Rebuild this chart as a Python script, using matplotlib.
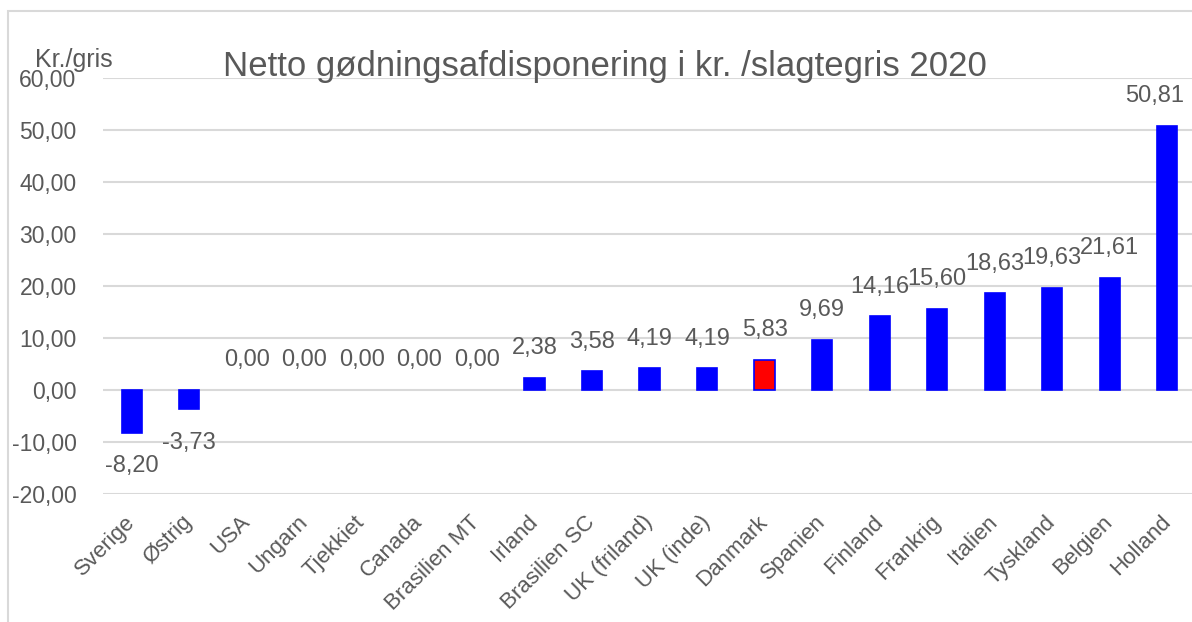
"""Netto goedningsafdisponering i kr. pr. slagtegris 2020 - bar chart"""
import matplotlib
matplotlib.use('Agg')
import matplotlib.pyplot as plt
from matplotlib.patches import Rectangle

countries = ['Sverige', 'Østrig', 'USA', 'Ungarn', 'Tjekkiet', 'Canada',
             'Brasilien MT', 'Irland', 'Brasilien SC', 'UK (friland)',
             'UK (inde)', 'Danmark', 'Spanien', 'Finland', 'Frankrig',
             'Italien', 'Tyskland', 'Belgien', 'Holland']
values = [-8.20, -3.73, 0.00, 0.00, 0.00, 0.00, 0.00, 2.38, 3.58, 4.19,
          4.19, 5.83, 9.69, 14.16, 15.60, 18.63, 19.63, 21.61, 50.81]
yticks = [-20, -10, 0, 10, 20, 30, 40, 50, 60]
highlight = 'Danmark'

TXT = '#595959'
GRID = '#d9d9d9'
plt.rcParams['font.family'] = ['Liberation Sans', 'DejaVu Sans']

def fmt(v):
  return f'{v:.2f}'.replace('.', ',')

W, H = 1192, 622
fig = plt.figure(figsize=(W / 100, H / 100), dpi=100)

# light frame round the chart (left and top edges visible)
fig.patches.append(Rectangle((8 / W, -0.1), 1.2, 1 - 11 / H + 0.1,
                             transform=fig.transFigure, fill=False,
                             edgecolor=GRID, linewidth=1.5))

left, right = 103 / W, 1196 / W
top, bottom = 1 - 78 / H, 1 - 494 / H
ax = fig.add_axes([left, bottom, right - left, top - bottom])

x = list(range(len(countries)))
colors = ['red' if c == highlight else 'blue' for c in countries]
widths = [1.2 if v != 0 else 0 for v in values]
ax.bar(x, values, width=0.35, color=colors, edgecolor='blue', linewidth=widths, zorder=3)

for xi, v in zip(x, values):
  # last label is pushed in so it stays inside the chart, as excel does
  dx = -9 if xi == len(values) - 1 else 0
  if v < 0:
    ax.annotate(fmt(v), (xi, v), xytext=(dx, -16), textcoords='offset points',
                ha='center', va='top', fontsize=17, color=TXT)
  else:
    ax.annotate(fmt(v), (xi, v), xytext=(dx, 17), textcoords='offset points',
                ha='center', va='baseline', fontsize=17, color=TXT)

ax.set_xlim(-0.5, len(countries) - 0.5)
ax.set_ylim(-20, 60)
ax.set_yticks(yticks)
ax.set_yticklabels([fmt(t) for t in yticks])
ax.yaxis.grid(True, color=GRID, linewidth=1.5, zorder=0)
ax.set_axisbelow(True)
ax.tick_params(axis='y', length=0, pad=19, labelsize=16.5, labelcolor=TXT)
ax.tick_params(axis='x', length=0, pad=18, labelsize=16, labelcolor=TXT)
ax.set_xticks(x)
ax.set_xticklabels(countries, rotation=45, ha='right', rotation_mode='anchor', va='center')
for s in ax.spines.values():
  s.set_visible(False)

fig.text(605 / W, 1 - 76 / H, 'Netto gødningsafdisponering i kr. /slagtegris 2020',
         ha='center', va='baseline', fontsize=25, color=TXT)
fig.text(35 / W, 1 - 67 / H, 'Kr./gris', ha='left', va='baseline', fontsize=18, color=TXT)

fig.savefig('out.png', dpi=100)
